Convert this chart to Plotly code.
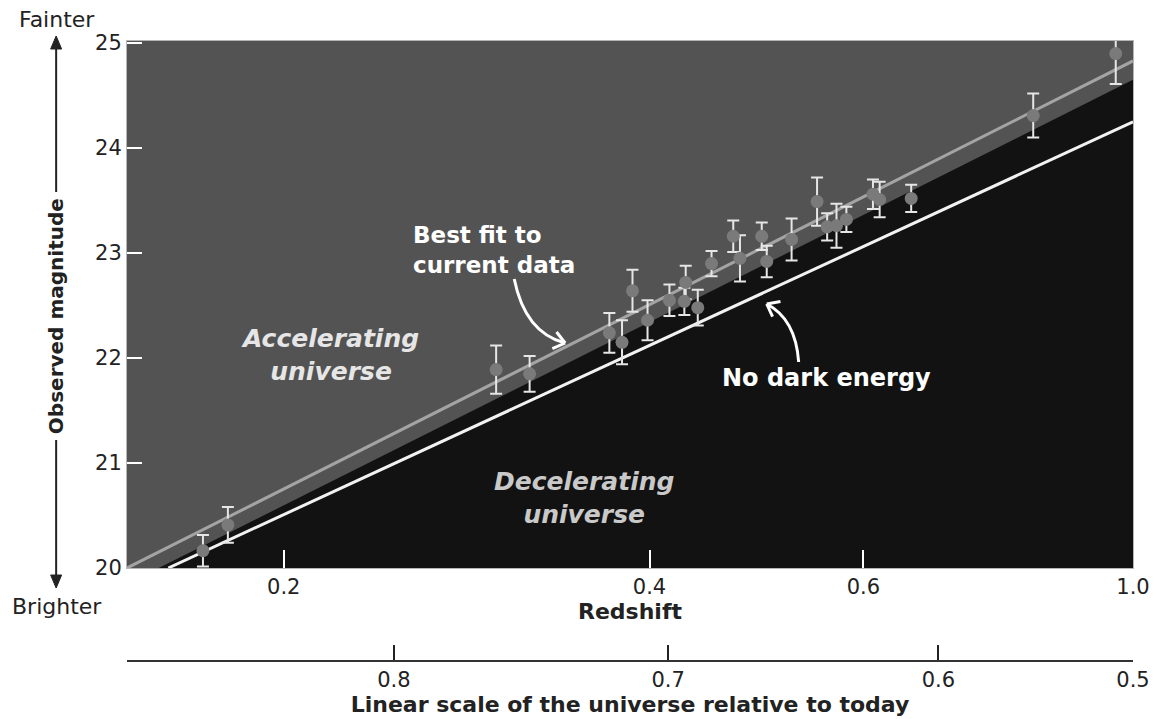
import math
import plotly.graph_objects as go

# ---------------- data ----------------
# supernova observations: redshift, observed magnitude, error (mag)
sn_redshift = [0.1716, 0.1799, 0.2991, 0.3187, 0.3707, 0.3797, 0.3873, 0.3985,
               0.4154, 0.4273, 0.4284, 0.4383, 0.4499, 0.4688, 0.4748, 0.4948,
               0.4995, 0.5236, 0.5495, 0.5601, 0.5701, 0.5809, 0.6109, 0.6187,
               0.6568, 0.8277, 0.9678]
sn_magnitude = [20.165, 20.41, 21.89, 21.85, 22.24, 22.15, 22.64, 22.36,
                22.55, 22.54, 22.72, 22.48, 22.90, 23.16, 22.95, 23.16,
                22.92, 23.13, 23.49, 23.25, 23.26, 23.32, 23.56, 23.51,
                23.52, 24.31, 24.90]
sn_error = [0.15, 0.17, 0.23, 0.17, 0.19, 0.21, 0.20, 0.19,
            0.15, 0.13, 0.16, 0.17, 0.12, 0.15, 0.22, 0.13,
            0.15, 0.20, 0.23, 0.13, 0.21, 0.12, 0.14, 0.17,
            0.13, 0.21, 0.29]

# model lines (straight on a log-redshift axis)
bestfit_z = [0.1486, 1.0]
bestfit_mag = [20.0, 24.83]
boundary_z = [0.1578, 1.0]          # edge of the "decelerating" region
boundary_mag = [20.0, 24.65]
nodark_z = [0.1607, 1.0]
nodark_mag = [20.0, 24.25]

# axis ticks
redshift_ticks = [0.2, 0.4, 0.6, 1.0]
redshift_labels = ["0.2", "0.4", "0.6", "1.0"]
scale_tick_z = [0.2464, 0.4144, 0.6915, 1.0]
scale_labels = ["0.8", "0.7", "0.6", "0.5"]
mag_ticks = [20, 21, 22, 23, 24, 25]

# ---------------- layout geometry (window pixels) ----------------
WIN_W, WIN_H = 1162, 719
OFF = 8                               # page body margin
FIG_W, FIG_H = WIN_W - OFF, WIN_H - OFF
L, R, T, B = 127, 1135, 41, 661       # plotting area in window pixels
PLOT_BOTTOM = 568                     # bottom of the magnitude plot
FONT = "DejaVu Sans"
TXT = "#222222"


def px(xp):
    return (xp - L) / (R - L)


def py(yp):
    return (B - yp) / (B - T)


GREY_BG = "#535353"
BLACK = "#121212"

fig = go.Figure()

# black decelerating region
fig.add_trace(go.Scatter(x=boundary_z, y=boundary_mag, mode="lines",
                         line=dict(width=0, color=BLACK), fill="tozeroy",
                         fillcolor=BLACK, hoverinfo="skip", showlegend=False))
# no dark energy line
fig.add_trace(go.Scatter(x=nodark_z, y=nodark_mag, mode="lines",
                         line=dict(width=3, color="#f2f2f2"),
                         hoverinfo="skip", showlegend=False))
# best fit line
fig.add_trace(go.Scatter(x=bestfit_z, y=bestfit_mag, mode="lines",
                         line=dict(width=3, color="#a4a4a4"),
                         hoverinfo="skip", showlegend=False))
# data points
fig.add_trace(go.Scatter(x=sn_redshift, y=sn_magnitude, mode="markers",
                         marker=dict(size=13, color="#7a7a7a"),
                         error_y=dict(type="data", array=sn_error, visible=True,
                                      color="#e6e6e6", thickness=2, width=6),
                         showlegend=False))
# dummy trace so the second (scale factor) axis is drawn
fig.add_trace(go.Scatter(x=[1.0], y=[None], xaxis="x2", yaxis="y",
                         mode="markers", showlegend=False, hoverinfo="skip"))

xrange_log = [-0.828, 0.0]
dom_bottom = py(PLOT_BOTTOM)

fig.update_layout(
    width=FIG_W, height=FIG_H,
    margin=dict(l=L - OFF, r=WIN_W - R, t=T - OFF, b=WIN_H - B, pad=0),
    paper_bgcolor="white",
    plot_bgcolor=GREY_BG,
    font=dict(family=FONT, size=21, color=TXT),
    xaxis=dict(type="log", range=xrange_log, tickvals=redshift_ticks,
               ticktext=redshift_labels, ticks="inside", ticklen=18,
               tickwidth=2, tickcolor="white", showgrid=False, zeroline=False,
               showline=True, linecolor="#b5b5b5", linewidth=1, mirror=True,
               tickfont=dict(size=21, color=TXT),
               title=dict(text="<b>Redshift</b>", font=dict(size=22, color=TXT),
                          standoff=2),
               anchor="y"),
    xaxis2=dict(type="log", range=xrange_log, overlaying="x", anchor="free",
                position=0, side="bottom", tickvals=scale_tick_z,
                ticktext=scale_labels, ticks="inside", ticklen=15, tickwidth=1.5,
                tickcolor=TXT, showline=True, linecolor="#333333",
                linewidth=1.5, showgrid=False, zeroline=False,
                tickfont=dict(size=21, color=TXT),
                title=dict(text="<b>Linear scale of the universe relative to today</b>",
                           font=dict(size=22, color=TXT), standoff=0)),
    yaxis=dict(range=[20, 25.02], domain=[dom_bottom, 1], tickvals=mag_ticks,
               ticks="inside", ticklen=15, tickwidth=2, tickcolor="white",
               showgrid=False, zeroline=False, showline=True,
               linecolor="#b5b5b5", linewidth=1, mirror=True,
               tickfont=dict(size=21, color=TXT)),
)

# ---------------- annotations ----------------
ann = []
ann.append(dict(x=px(412), y=py(250), xref="paper", yref="paper",
                text="<b>Best fit to<br>current data</b>", showarrow=False,
                xanchor="left", yanchor="middle", align="left",
                font=dict(size=23, color="white")))
ann.append(dict(x=px(828), y=py(378), xref="paper", yref="paper",
                text="<b>No dark energy</b>", showarrow=False,
                xanchor="center", yanchor="middle",
                font=dict(size=24, color="white")))
ann.append(dict(x=px(330), y=py(355), xref="paper", yref="paper",
                text="<b><i>Accelerating<br>universe</i></b>", showarrow=False,
                xanchor="center", yanchor="middle", align="center",
                font=dict(size=25, color="#e6e6e6")))
ann.append(dict(x=px(585), y=py(498), xref="paper", yref="paper",
                text="<b><i>Decelerating<br>universe</i></b>", showarrow=False,
                xanchor="center", yanchor="middle", align="center",
                font=dict(size=25, color="#c9c9c9")))
ann.append(dict(x=px(57), y=py(20), xref="paper", yref="paper",
                text="Fainter", showarrow=False, xanchor="center",
                yanchor="middle", font=dict(size=22, color=TXT)))
ann.append(dict(x=px(57), y=py(606), xref="paper", yref="paper",
                text="Brighter", showarrow=False, xanchor="center",
                yanchor="middle", font=dict(size=22, color=TXT)))
ann.append(dict(x=px(56), y=py(316), xref="paper", yref="paper",
                text="<b>Observed magnitude</b>", showarrow=False,
                textangle=-90, xanchor="center", yanchor="middle",
                font=dict(size=20, color=TXT)))
fig.update_layout(annotations=ann)

# ---------------- decorative shapes ----------------
shapes = []


def pline(x0, y0, x1, y1, color, width):
    shapes.append(dict(type="line", xref="paper", yref="paper",
                       x0=px(x0), y0=py(y0), x1=px(x1), y1=py(y1),
                       line=dict(color=color, width=width)))


def tri(tip, b1, b2, color):
    path = "M {} {} L {} {} L {} {} Z".format(px(tip[0]), py(tip[1]),
                                              px(b1[0]), py(b1[1]),
                                              px(b2[0]), py(b2[1]))
    shapes.append(dict(type="path", xref="paper", yref="paper", path=path,
                       fillcolor=color, line=dict(color=color, width=1)))


# vertical brightness arrow
pline(56, 47, 56, 192, TXT, 2)
tri((56, 36), (50.5, 49), (61.5, 49), TXT)
pline(56, 440, 56, 577, TXT, 2)
tri((56, 588), (50.5, 575), (61.5, 575), TXT)


def curved_arrow(p0, c, p1, color="white", width=3, arm=14, ang=38):
    path = "M {} {} Q {} {} {} {}".format(px(p0[0]), py(p0[1]), px(c[0]), py(c[1]),
                                         px(p1[0]), py(p1[1]))
    shapes.append(dict(type="path", xref="paper", yref="paper", path=path,
                       line=dict(color=color, width=width)))
    dx, dy = c[0] - p1[0], c[1] - p1[1]
    n = math.hypot(dx, dy)
    dx, dy = dx / n, dy / n
    for s in (-1, 1):
        a = math.radians(ang * s)
        ex = dx * math.cos(a) - dy * math.sin(a)
        ey = dx * math.sin(a) + dy * math.cos(a)
        pline(p1[0], p1[1], p1[0] + arm * ex, p1[1] + arm * ey, color, width)


curved_arrow((515, 279), (526, 333), (566, 343))
curved_arrow((800, 362), (797, 319), (768, 304))

fig.update_layout(shapes=shapes)

fig.write_html("out.html")
